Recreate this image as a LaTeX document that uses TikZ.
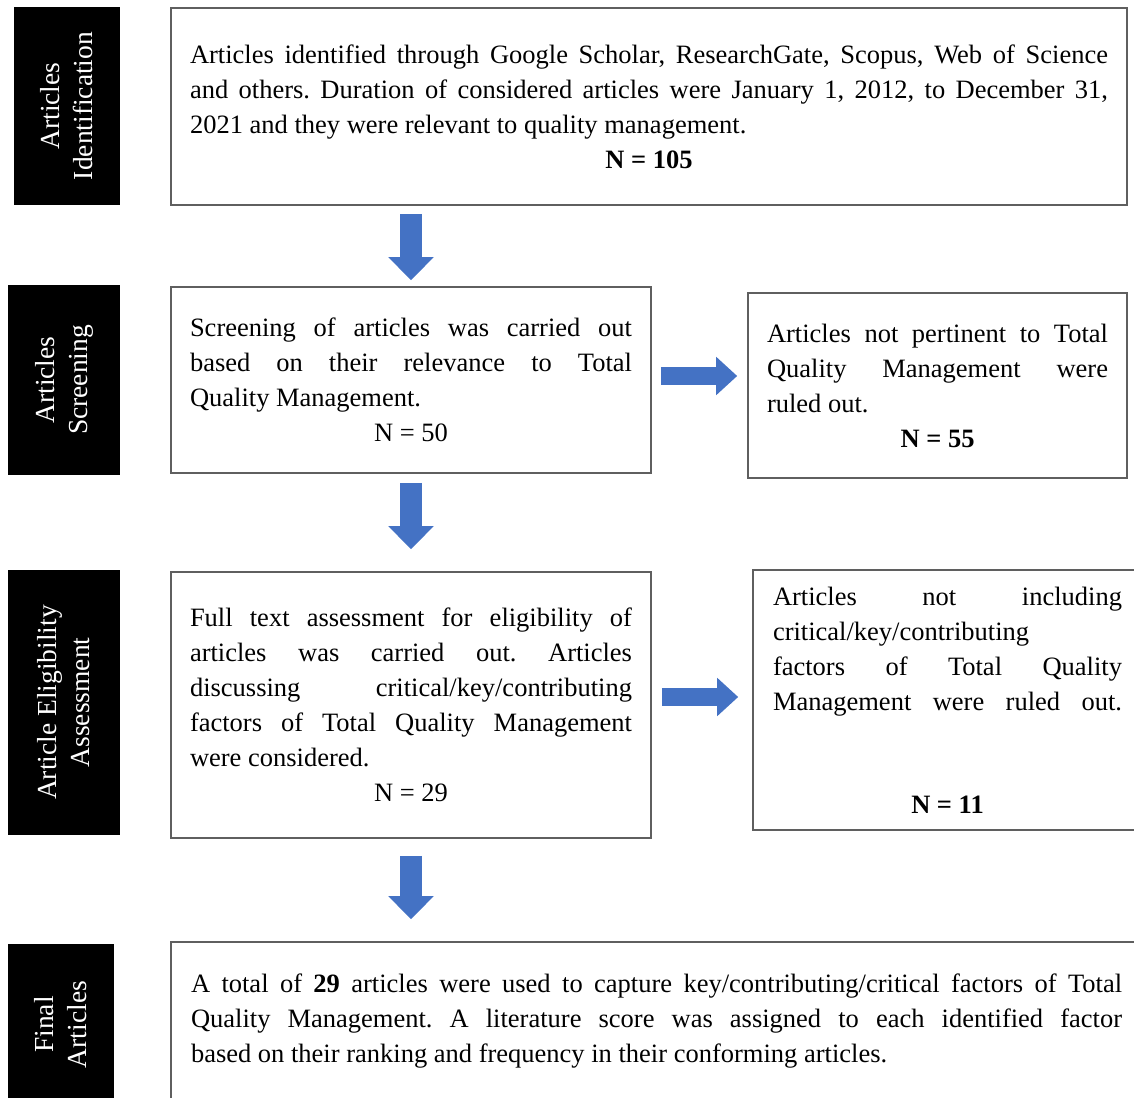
\documentclass[tikz,border=0pt]{standalone}
\usepackage{fontspec}
\setmainfont{Liberation Serif}
\usetikzlibrary{arrows.meta}

\definecolor{arrowblue}{RGB}{68,114,196}
\definecolor{boxline}{RGB}{95,95,95}

\tikzset{
  stage/.style={fill=black, text=white, rotate=90, align=center,
    font=\fontsize{27.5}{33}\selectfont, inner sep=0pt},
  textbox/.style={draw=boxline, line width=1.6pt, align=justify,
    inner xsep=19pt, inner ysep=0pt,
    font=\fontsize{26.5}{35}\selectfont\frenchspacing},
  downarrow/.style={arrowblue, line width=22pt,
    -{Triangle[width=44pt,length=23pt]}},
  rightarrow/.style={arrowblue, line width=18pt,
    -{Triangle[width=37pt,length=21pt]}},
}

\begin{document}
\begin{tikzpicture}[x=1pt,y=-1pt]
\clip (0,0) rectangle (1134,1097);

% stage labels on the left
\node[stage, minimum width=198pt, minimum height=106pt] (s1) at (67,106)
  {Articles\\Identification};
\node[stage, minimum width=190pt, minimum height=112pt] (s2) at (64,380)
  {Articles\\Screening};
\node[stage, minimum width=265pt, minimum height=112pt] (s3) at (64,702.5)
  {Article Eligibility\\Assessment};
\node[stage, minimum width=161pt, minimum height=106pt] (s4) at (61,1024.5)
  {Final\\Articles};

% main column
\node[textbox, text width=918pt, minimum width=956pt, minimum height=197pt]
  (b1) at (649,106.5)
  {Articles identified through Google Scholar, ResearchGate, Scopus, Web of Science\linebreak
   and others. Duration of considered articles were January 1, 2012, to December 31,\linebreak
   2021 and they were relevant to quality management.\par
   \centerline{\textbf{N = 105}}};

\node[textbox, text width=442pt, minimum width=480pt, minimum height=186pt]
  (b2) at (411,380)
  {Screening of articles was carried out\linebreak
   based on their relevance to Total\linebreak
   Quality Management.\par
   \centerline{N = 50}};

\node[textbox, text width=442pt, minimum width=480pt, minimum height=266pt]
  (b3) at (411,705)
  {Full text assessment for eligibility of\linebreak
   articles was carried out. Articles\linebreak
   discussing critical/key/contributing\linebreak
   factors of Total Quality Management\linebreak
   were considered.\par
   \centerline{N = 29}};

\node[textbox, text width=931pt, minimum width=971pt, minimum height=158pt]
  (b4) at (656.5,1021)
  {A total of \textbf{29} articles were used to capture key/contributing/critical factors of Total\linebreak
   Quality Management. A literature score was assigned to each identified factor\linebreak
   based on their ranking and frequency in their conforming articles.};

% excluded articles
\node[textbox, text width=341pt, minimum width=379pt, minimum height=185pt]
  (b2r) at (937.5,385.5)
  {Articles not pertinent to Total\linebreak
   Quality Management were\linebreak
   ruled out.\par
   \centerline{\textbf{N = 55}}};

\node[textbox, inner xsep=20pt, text width=349pt, minimum width=389pt, minimum height=260pt]
  (b3r) at (947.5,700)
  {Articles not including\linebreak
   critical/key/contributing\linebreak
   factors of Total Quality\linebreak
   Management were ruled out.\linebreak\par
   \vskip 33pt
   \centerline{\textbf{N = 11}}};

% flow arrows
\draw[downarrow, shorten <=8pt, shorten >=6pt] (b1.south -| b2.north) -- (b2.north);
\draw[downarrow, shorten <=9pt, shorten >=22pt] (b2.south) -- (b3.north);
\draw[downarrow, shorten <=17pt, shorten >=22pt] (b3.south) -- (b3.south |- b4.north);

\coordinate (r2) at ([yshift=4pt]b2.east);
\coordinate (r3) at ([yshift=8pt]b3.east);
\draw[rightarrow, shorten <=9pt, shorten >=10pt] (r2) -- (r2 -| b2r.west);
\draw[rightarrow, shorten <=10pt, shorten >=14pt] (r3) -- (r3 -| b3r.west);
\end{tikzpicture}
\end{document}
